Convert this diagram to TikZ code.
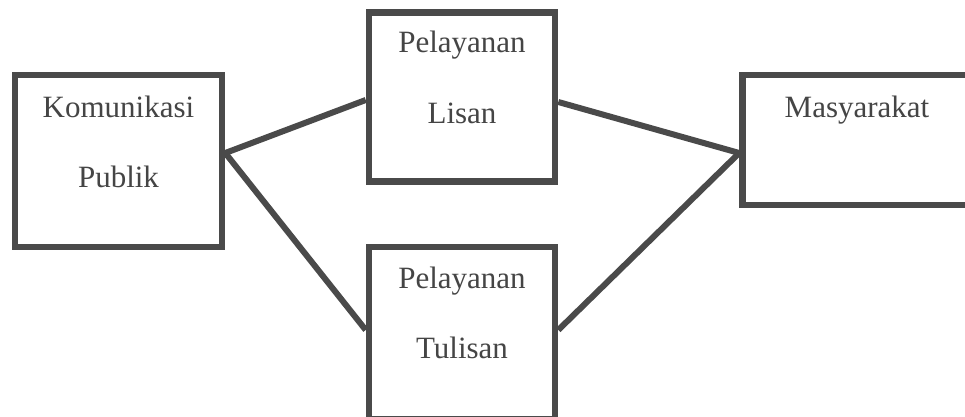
\documentclass[tikz,border=0pt]{standalone}
\usepackage{fontspec}
\setmainfont{Liberation Serif}
\definecolor{ink}{HTML}{4A4A4A}
\definecolor{txt}{HTML}{454545}
\tikzset{
  box/.style={draw=ink, line width=6.6pt, fill=white, inner sep=0pt, rectangle},
  conn/.style={draw=ink, line width=6pt},
  lbl/.style={anchor=base, inner sep=0pt, text=txt, font=\fontsize{31}{37}\selectfont}
}
\begin{document}
\begin{tikzpicture}[x=1pt,y=1pt]
\clip (0,0) rectangle (965,416);
\fill[white] (0,0) rectangle (965,416);
% boxes
\node[box, minimum width=207pt, minimum height=172pt] (kom) at (118.5,255) {};
\node[box, minimum width=186pt, minimum height=169pt] (lis) at (462,318.8) {};
\node[box, minimum width=186pt, minimum height=172pt] (tul) at (462,83.2) {};
\node[box, minimum width=232pt, minimum height=130pt] (mas) at (858.5,276) {};
% connector ends
\coordinate (kR) at (kom.east |- 0,263);
\coordinate (lL) at (lis.west |- 0,316);
\coordinate (lR) at (lis.east |- 0,314);
\coordinate (tL) at (tul.west |- 0,86);
\coordinate (tR) at (tul.east |- 0,86);
\coordinate (mL) at (mas.west |- 0,263);
\draw[conn] (kR) -- (lL);
\draw[conn] (kR) -- (tL);
\draw[conn] (lR) -- (mL);
\draw[conn] (tR) -- (mL);
% labels
\node[lbl] (t1) at (118.5,299) {Komunikasi};
\node[lbl] (t2) at (118.5,229) {Publik};
\node[lbl] (t3) at (462,363) {Pelayanan};
\node[lbl] (t4) at (462,293) {Lisan};
\node[lbl] (t5) at (462,128) {Pelayanan};
\node[lbl] (t6) at (462,58) {Tulisan};
\node[lbl] (t7) at (857,299) {Masyarakat};
\end{tikzpicture}
\end{document}
